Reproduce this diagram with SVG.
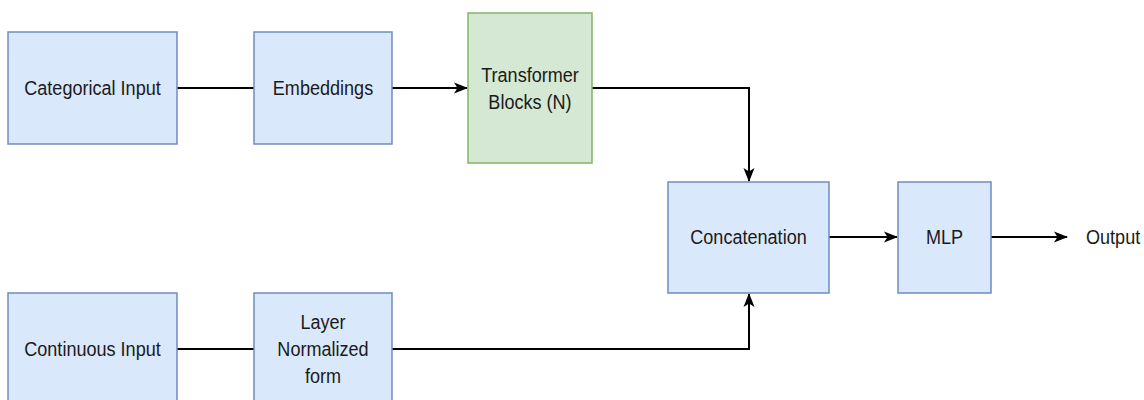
<svg xmlns="http://www.w3.org/2000/svg" width="1144" height="400" viewBox="0 0 1144 400">
  <defs>
    <marker id="arrow" viewBox="0 0 14 14" refX="13" refY="7" markerWidth="14" markerHeight="14" markerUnits="userSpaceOnUse" orient="auto">
      <path d="M0,1.5 L14,7 L0,12.5 L3.5,7 Z" fill="#000"/>
    </marker>
  </defs>
  <style>
    .blue { fill: #dae8fc; stroke: #6c8ebf; stroke-width: 1.5; }
    .green { fill: #d5e8d4; stroke: #82b366; stroke-width: 1.5; }
    .label { font-family: "Liberation Sans", Arial, sans-serif; font-size: 21px; fill: #1a1a1a; text-anchor: middle; }
    .edge { fill: none; stroke: #000; stroke-width: 2; }
  </style>
  <rect width="1144" height="400" fill="#fff"/>

  <g id="connectors">
    <path class="edge" d="M177,88 H254"/>
    <path class="edge" d="M392,88 H467" marker-end="url(#arrow)"/>
    <path class="edge" d="M592,88 H749 V181" marker-end="url(#arrow)"/>
    <path class="edge" d="M177,349 H254"/>
    <path class="edge" d="M392,349 H749 V294" marker-end="url(#arrow)"/>
    <path class="edge" d="M829,237 H897" marker-end="url(#arrow)"/>
    <path class="edge" d="M991,237 H1067" marker-end="url(#arrow)"/>
  </g>

  <!-- labels use a narrowed 21px face: matrix(.86 0 0 1 cx 0) centres each line on cx -->
  <g id="categorical-input">
    <rect class="blue" x="8" y="32" width="169" height="112"/>
    <text class="label" transform="matrix(.86 0 0 1 92.5 0)" x="0" y="95">Categorical Input</text>
  </g>
  <g id="embeddings">
    <rect class="blue" x="254" y="32" width="138" height="112"/>
    <text class="label" transform="matrix(.86 0 0 1 323 0)" x="0" y="95">Embeddings</text>
  </g>
  <g id="transformer-blocks">
    <rect class="green" x="468" y="13" width="124" height="150"/>
    <text class="label" transform="matrix(.86 0 0 1 530 0)" x="0" y="82">Transformer</text>
    <text class="label" transform="matrix(.86 0 0 1 530 0)" x="0" y="109">Blocks (N)</text>
  </g>
  <g id="concatenation">
    <rect class="blue" x="668" y="182" width="161" height="111"/>
    <text class="label" transform="matrix(.86 0 0 1 748.5 0)" x="0" y="244">Concatenation</text>
  </g>
  <g id="mlp">
    <rect class="blue" x="898" y="182" width="93" height="111"/>
    <text class="label" transform="matrix(.86 0 0 1 944.5 0)" x="0" y="244">MLP</text>
  </g>
  <g id="output">
    <text class="label" transform="matrix(.86 0 0 1 1086 0)" x="0" y="244" style="text-anchor:start">Output</text>
  </g>
  <g id="continuous-input">
    <rect class="blue" x="8" y="293" width="169" height="120"/>
    <text class="label" transform="matrix(.86 0 0 1 92.5 0)" x="0" y="356">Continuous Input</text>
  </g>
  <g id="layer-normalized">
    <rect class="blue" x="254" y="293" width="138" height="120"/>
    <text class="label" transform="matrix(.86 0 0 1 323 0)" x="0" y="329">Layer</text>
    <text class="label" transform="matrix(.86 0 0 1 323 0)" x="0" y="356">Normalized</text>
    <text class="label" transform="matrix(.86 0 0 1 323 0)" x="0" y="383">form</text>
  </g>
</svg>
